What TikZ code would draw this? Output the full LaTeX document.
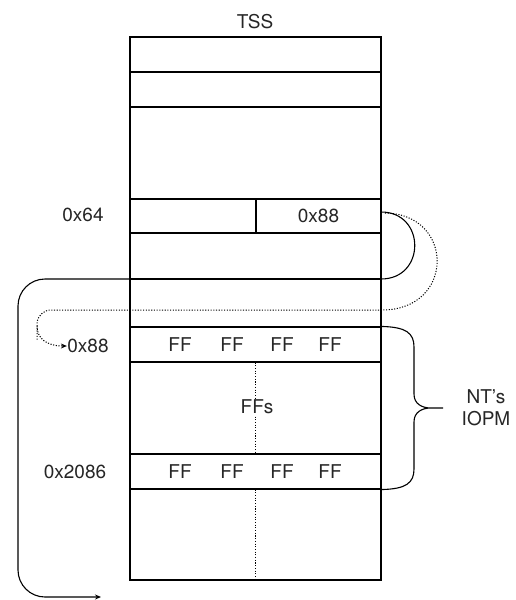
\documentclass[tikz,border=0pt]{standalone}
\usepackage{fontspec}
\setmainfont{TeX Gyre Heros}
\usetikzlibrary{arrows.meta}
\begin{document}
\begin{tikzpicture}[x=1pt,y=-1pt,line width=1.1pt,
  row/.style={draw,inner sep=0pt,minimum width=251pt},
  lbl/.style={inner sep=0pt,font=\fontsize{19}{21}\selectfont,text=black!85},
  dotline/.style={dash pattern=on 1.1pt off 1.6pt},
  tip/.style={-{Stealth[length=6pt,width=5pt]}}]
\useasboundingbox (0,0) rectangle (516,600);
% TSS rows
\node[row,minimum height=35pt] (r1) at (255.5,54.5) {};
\node[row,minimum height=35pt] (r2) at (255.5,89.5) {};
\node[row,minimum height=92pt] (r3) at (255.5,153) {};
\node[draw,inner sep=0pt,minimum width=126pt,minimum height=34pt] (c64) at (193,216) {};
\node[draw,inner sep=0pt,minimum width=125pt,minimum height=34pt] (c88) at (318.5,216) {};
\node[row,minimum height=46pt] (r5) at (255.5,256) {};
\node[row,minimum height=48pt] (r6) at (255.5,303) {};
\node[row,minimum height=35pt] (ff1) at (255.5,344.5) {};
\node[row,minimum height=92pt] (ffs) at (255.5,408) {};
\node[row,minimum height=35pt] (ff2) at (255.5,471.5) {};
\node[row,minimum height=91pt] (r10) at (255.5,534.5) {};
% dotted column lines
\draw[dotline,line width=1pt] (ff1.south) -- (ff2.north);
\draw[dotline,line width=1pt] (ff2.south) -- (r10.south);
% labels
\node[lbl] (tss) at (255,22) {TSS};
\node[lbl] (l64) at (83,215) {0x64};
\node[lbl] (v88) at (c88.center) {0x88};
\node[lbl] (l88) at (88,346) {0x88};
\node[lbl] (l2086) at (75,472) {0x2086};
\node[lbl,fill=white,inner sep=1pt] (tffs) at (257,407) {FFs};
\foreach \x [count=\i] in {180,232,282,330}{
  \node[lbl] (fa\i) at (\x,345) {FF};
  \node[lbl] (fb\i) at (\x,472) {FF};
}
\node[lbl,align=center,font=\fontsize{19}{22}\selectfont] (iopm) at (486,408) {NT's\\IOPM};
% brace
\draw[line width=1.1pt] (ff1.north east)
  .. controls (406,327) and (414,333) .. (414,347)
  -- (414,394) .. controls (414,404) and (422,408) .. (431,408) -- (443,408)
  (431,408) .. controls (422,408) and (414,412) .. (414,422)
  -- (414,469) .. controls (414,483) and (406,489) .. (ff2.south east);
% solid pointer
\coordinate (s0) at (381,212);
\coordinate (s1) at (381,279);
\coordinate (s2) at (18,279);
\coordinate (s3) at (18,597);
\coordinate (s4) at (101,597);
\draw[tip] (s0) .. controls (426,212) and (426,279) .. (s1)
  [rounded corners=27pt] -- (s2) -- (s3) -- (s4);
% dotted pointer
\coordinate (d0) at (385,213);
\coordinate (d1) at (382,310);
\coordinate (d2) at (37,310);
\draw[dotline,line width=1pt] (d0) .. controls (455,214) and (455,310) .. (d1)
  [rounded corners=14pt] -- (d2) -- (37,340);
\draw[dotline,line width=1pt,tip] (37,326) .. controls (37,338) and (46,346) .. (l88.west);
\end{tikzpicture}
\end{document}
